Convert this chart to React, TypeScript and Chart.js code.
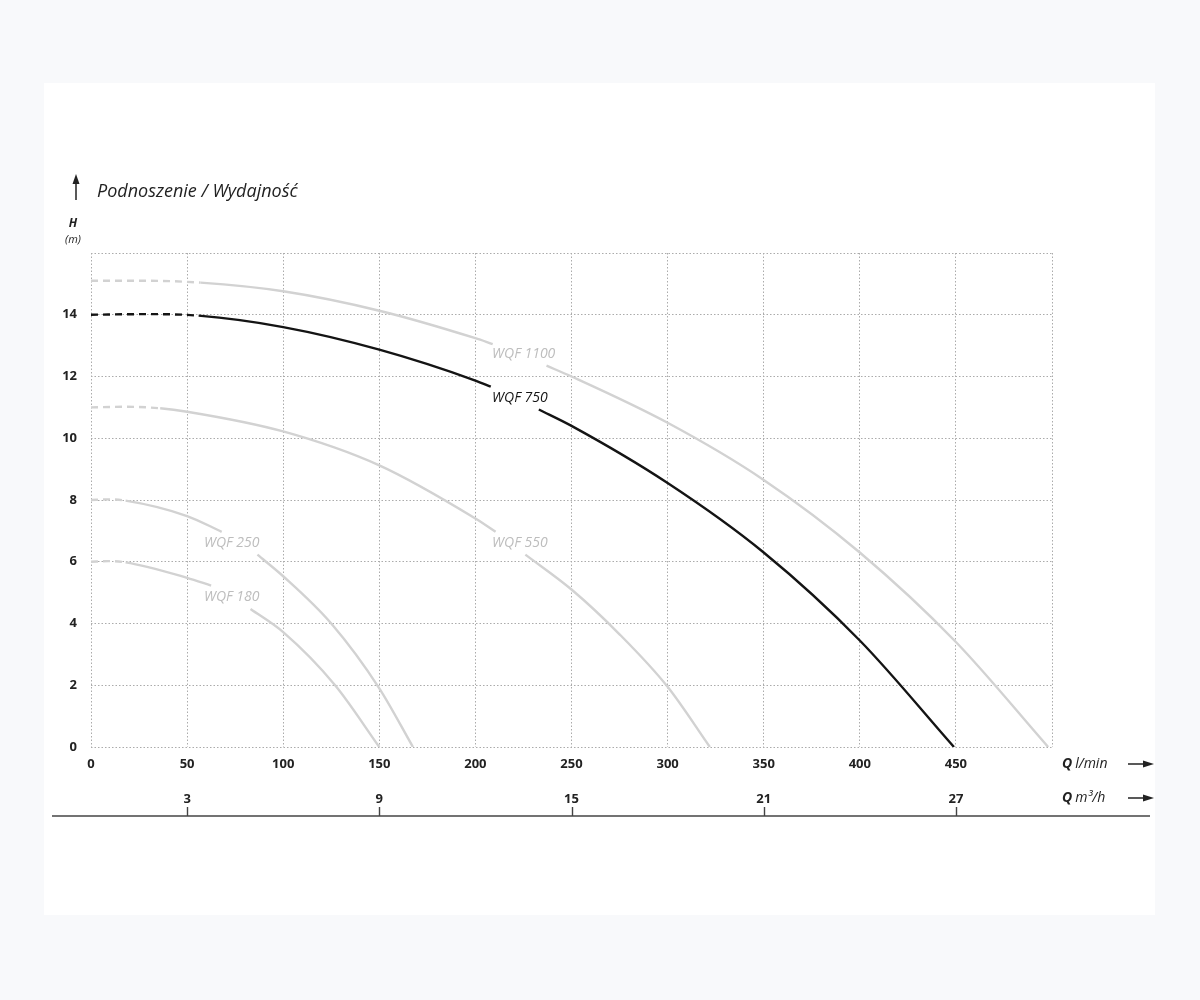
import React, { useEffect, useRef } from 'react';
import { Chart, registerables } from 'chart.js';

Chart.register(...registerables);

// ---------- data ----------
const Q_MIN = 0;
const Q_MAX = 500;
const H_MIN = 0;
const H_MAX = 16;
const Q_TICKS = [0, 50, 100, 150, 200, 250, 300, 350, 400, 450, 500];
const H_TICKS = [0, 2, 4, 6, 8, 10, 12, 14, 16];
const M3H_MAX = 30;
const M3H_TICKS = [3, 9, 15, 21, 27];

// null = gap where the curve label sits
const WQF1100_Q = [0, 28, 57, 100, 150, 200, 209, 223, 237, 250, 300, 350, 400, 450, 498];
const WQF1100_H = [15.1, 15.1, 15.04, 14.76, 14.13, 13.24, 13.05, null, 12.35, 12.0, 10.5, 8.65, 6.3, 3.4, 0];
const WQF1100_DASH_END = 57;

const WQF750_Q = [0, 28, 56, 100, 150, 200, 208, 220, 233, 250, 300, 350, 400, 449];
const WQF750_H = [14.0, 14.02, 13.97, 13.6, 12.87, 11.87, 11.67, null, 10.93, 10.4, 8.55, 6.3, 3.45, 0];
const WQF750_DASH_END = 56;

const WQF550_Q = [0, 18, 36, 50, 100, 150, 200, 210.5, 218, 226, 250, 275, 300, 322];
const WQF550_H = [11.0, 11.02, 10.97, 10.86, 10.22, 9.12, 7.4, 6.97, null, 6.23, 5.1, 3.65, 1.95, 0];
const WQF550_DASH_END = 36;

const WQF250_Q = [0, 9, 18, 50, 68, 77, 86.6, 100, 125, 150, 167.5];
const WQF250_H = [8.0, 8.02, 7.98, 7.48, 6.97, null, 6.23, 5.53, 4.0, 1.9, 0];
const WQF250_DASH_END = 18;

const WQF180_Q = [0, 9, 18, 50, 62.5, 72, 83, 100, 127, 150];
const WQF180_H = [6.0, 6.02, 5.98, 5.48, 5.23, null, 4.47, 3.72, 2.0, 0];
const WQF180_DASH_END = 18;

const SERIES_NAMES = ['WQF 1100', 'WQF 750', 'WQF 550', 'WQF 250', 'WQF 180'];
const SERIES_Q = [WQF1100_Q, WQF750_Q, WQF550_Q, WQF250_Q, WQF180_Q];
const SERIES_H = [WQF1100_H, WQF750_H, WQF550_H, WQF250_H, WQF180_H];
const SERIES_DASH_END = [WQF1100_DASH_END, WQF750_DASH_END, WQF550_DASH_END, WQF250_DASH_END, WQF180_DASH_END];
const SERIES_HIGHLIGHT = [false, true, false, false, false];
// label anchor (left edge Q, centre H)
const LABEL_Q = [208.7, 208.7, 208.7, 58.8, 58.8];
const LABEL_H = [12.73, 11.3, 6.6, 6.6, 4.85];

const TITLE = 'Podnoszenie / Wydajność';
const Y_UNIT_TOP = 'H';
const Y_UNIT_BOTTOM = '(m)';
const X1_NAME = 'l/min';
const X2_NAME = 'm³/h';

// ---------- styles ----------
const FONT = "'Open Sans', 'Noto Sans', sans-serif";
const DARK = '#141414';
const GRAY_LINE = '#d2d2d2';
const GRAY_TEXT = '#bdbdbd';
const GRID = '#ababab';

const overlayPlugin = {
  id: 'overlay',
  afterDraw(chart: any) {
    const ctx = chart.ctx as CanvasRenderingContext2D;
    const xs = chart.scales.x;
    const ys = chart.scales.y;
    const x2 = chart.scales.x2;
    ctx.save();

    // curve labels
    ctx.textBaseline = 'middle';
    ctx.textAlign = 'left';
    ctx.font = `italic 14px ${FONT}`;
    SERIES_NAMES.forEach((name, i) => {
      ctx.fillStyle = SERIES_HIGHLIGHT[i] ? DARK : GRAY_TEXT;
      ctx.fillText(name, xs.getPixelForValue(LABEL_Q[i]), ys.getPixelForValue(LABEL_H[i]));
    });

    // title with arrow
    ctx.fillStyle = '#222';
    ctx.strokeStyle = '#222';
    ctx.lineWidth = 1.5;
    ctx.beginPath();
    ctx.moveTo(76, 183);
    ctx.lineTo(76, 200);
    ctx.stroke();
    ctx.beginPath();
    ctx.moveTo(76, 174);
    ctx.lineTo(72.5, 184);
    ctx.lineTo(79.5, 184);
    ctx.closePath();
    ctx.fill();
    ctx.font = `italic 18px ${FONT}`;
    ctx.fillText(TITLE, 97, 192);

    ctx.textAlign = 'center';
    ctx.font = `italic bold 12px ${FONT}`;
    ctx.fillText(Y_UNIT_TOP, 73, 224);
    ctx.font = `italic 11px ${FONT}`;
    ctx.fillText(Y_UNIT_BOTTOM, 73, 240);

    // axis names with arrows
    const drawAxisName = (name: string, y: number) => {
      ctx.textAlign = 'left';
      ctx.font = `italic bold 14px ${FONT}`;
      ctx.fillStyle = '#222';
      ctx.fillText('Q', 1062, y);
      const w = ctx.measureText('Q').width;
      ctx.font = `italic 14px ${FONT}`;
      ctx.fillText(name, 1062 + w + 3, y);
      ctx.beginPath();
      ctx.moveTo(1128, y);
      ctx.lineTo(1145, y);
      ctx.stroke();
      ctx.beginPath();
      ctx.moveTo(1154, y);
      ctx.lineTo(1143, y - 3.5);
      ctx.lineTo(1143, y + 3.5);
      ctx.closePath();
      ctx.fill();
    };
    drawAxisName(X1_NAME, 764);
    drawAxisName(X2_NAME, 798);

    // bottom axis line and m3/h tick marks
    ctx.strokeStyle = '#444';
    ctx.lineWidth = 1.6;
    ctx.beginPath();
    ctx.moveTo(52, 816);
    ctx.lineTo(1150, 816);
    ctx.stroke();
    ctx.lineWidth = 1.4;
    M3H_TICKS.forEach((v) => {
      const px = Math.round(x2.getPixelForValue(v)) + 0.5;
      ctx.beginPath();
      ctx.moveTo(px, 807);
      ctx.lineTo(px, 816);
      ctx.stroke();
    });

    ctx.restore();
  },
};

export default function App() {
  const ref = useRef<HTMLCanvasElement>(null);

  useEffect(() => {
    if (!ref.current) return;
    Chart.defaults.font.family = FONT;

    const datasets = SERIES_NAMES.map((name, i) => {
      const dashEnd = SERIES_DASH_END[i];
      return {
        label: name,
        data: SERIES_Q[i].map((q, j) => ({ x: q, y: SERIES_H[i][j] })),
        borderColor: SERIES_HIGHLIGHT[i] ? DARK : GRAY_LINE,
        borderWidth: 2.4,
        pointRadius: 0,
        pointHoverRadius: 0,
        fill: false,
        spanGaps: false,
        cubicInterpolationMode: 'monotone' as const,
        order: SERIES_HIGHLIGHT[i] ? 0 : 1,
        segment: {
          borderDash: (c: any) => (c.p1.parsed.x <= dashEnd + 0.001 ? [7, 5] : undefined),
        },
      };
    });

    const chart = new Chart(ref.current, {
      type: 'line',
      data: { datasets },
      plugins: [overlayPlugin],
      options: {
        animation: false,
        responsive: false,
        maintainAspectRatio: false,
        layout: { padding: { left: 0, right: 148, top: 253, bottom: 183 } },
        plugins: {
          legend: { display: false },
          tooltip: { enabled: false },
        },
        scales: {
          x: {
            type: 'linear',
            position: 'bottom',
            weight: 0,
            min: Q_MIN,
            max: Q_MAX,
            afterBuildTicks: (s: any) => {
              s.ticks = Q_TICKS.map((v) => ({ value: v }));
            },
            afterFit: (s: any) => {
              s.height = 34;
            },
            grid: { color: GRID, lineWidth: 1, drawTicks: false },
            border: { display: false, dash: [1.5, 2] },
            ticks: {
              padding: 9,
              maxRotation: 0,
              autoSkip: false,
              color: '#222',
              font: { size: 13, weight: 'bold' },
              callback: (v: any) => (v === Q_MAX ? '' : String(v)),
            },
          },
          x2: {
            type: 'linear',
            position: 'bottom',
            weight: 1,
            min: 0,
            max: M3H_MAX,
            afterBuildTicks: (s: any) => {
              s.ticks = M3H_TICKS.map((v) => ({ value: v }));
            },
            afterFit: (s: any) => {
              s.height = 36;
            },
            grid: { display: false, drawTicks: false },
            border: { display: false },
            ticks: {
              padding: 10,
              maxRotation: 0,
              autoSkip: false,
              color: '#222',
              font: { size: 13, weight: 'bold' },
              callback: (v: any) => String(v),
            },
          },
          y: {
            type: 'linear',
            position: 'left',
            min: H_MIN,
            max: H_MAX,
            afterBuildTicks: (s: any) => {
              s.ticks = H_TICKS.map((v) => ({ value: v }));
            },
            afterFit: (s: any) => {
              s.width = 91;
            },
            grid: { color: GRID, lineWidth: 1, drawTicks: false },
            border: { display: false, dash: [1.5, 2] },
            ticks: {
              padding: 14,
              color: '#222',
              font: { size: 13, weight: 'bold' },
              callback: (v: any) => (v === H_MAX ? '' : String(v)),
            },
          },
        },
      } as any,
    });

    return () => chart.destroy();
  }, []);

  return (
    <div
      style={{
        position: 'absolute',
        left: 0,
        top: 0,
        width: 1200,
        height: 1000,
        background: '#f8f9fb',
        overflow: 'hidden',
      }}
    >
      <div
        style={{
          position: 'absolute',
          left: 44,
          top: 83,
          width: 1111,
          height: 832,
          background: '#ffffff',
        }}
      />
      <canvas
        ref={ref}
        width={1200}
        height={1000}
        style={{ position: 'absolute', left: 0, top: 0, width: 1200, height: 1000 }}
      />
    </div>
  );
}
